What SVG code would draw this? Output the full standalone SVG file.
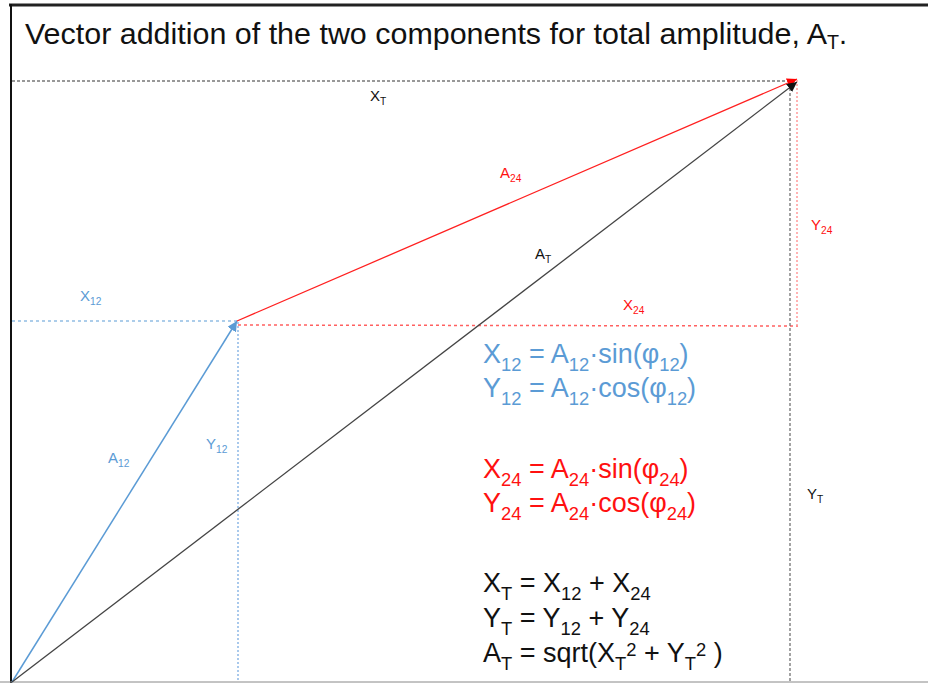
<svg xmlns="http://www.w3.org/2000/svg" width="928" height="683" viewBox="0 0 928 683">
<defs>
<style>
text{font-family:"Liberation Sans","Open Sans",sans-serif}
.title{font-size:29px;fill:#111}
.lbl{font-size:15px}
.eq{font-size:27px}
.blue{fill:#5B9BD5}
.red{fill:#FF1010}
.blk{fill:#111}
.sub{font-size:0.68em}
</style>
<marker id="ahBlue" markerUnits="userSpaceOnUse" markerWidth="12" markerHeight="12" refX="10" refY="5" orient="auto"><path d="M0,0 L10,5 L0,10 z" fill="#5B9BD5"/></marker>
<marker id="ahRed" markerUnits="userSpaceOnUse" markerWidth="12" markerHeight="12" refX="10" refY="5" orient="auto"><path d="M0,0 L10,5 L0,10 z" fill="#FF0000"/></marker>
<marker id="ahBlk" markerUnits="userSpaceOnUse" markerWidth="12" markerHeight="12" refX="10" refY="5" orient="auto"><path d="M0,0 L10,5 L0,10 z" fill="#111"/></marker>
</defs>
<rect width="928" height="683" fill="#fff"/>
<g id="frame">
<line x1="9" y1="5" x2="928" y2="5" stroke="#222" stroke-width="3"/>
<line x1="11" y1="4" x2="11" y2="683" stroke="#111" stroke-width="2"/>
<line x1="0" y1="682" x2="928" y2="682" stroke="#888" stroke-width="1"/>
</g>
<g id="title">
<text class="title" x="25" y="44"><tspan textLength="802" lengthAdjust="spacingAndGlyphs">Vector addition of the two components for total amplitude, A</tspan><tspan class="sub" dy="5">T</tspan><tspan dy="-5">.</tspan></text>
</g>
<g id="connectors" fill="none">
<line x1="12" y1="81" x2="797" y2="81" stroke="#777" stroke-width="1.5" stroke-dasharray="3,2"/>
<line x1="12" y1="321" x2="237" y2="321" stroke="#5B9BD5" stroke-width="1.2" stroke-dasharray="3,3"/>
<line x1="238" y1="322" x2="238" y2="682" stroke="#8DB8E6" stroke-width="1.5" stroke-dasharray="2,2"/>
<line x1="238" y1="325" x2="798" y2="326" stroke="#FF6060" stroke-width="1.5" stroke-dasharray="3,3"/>
<line x1="797" y1="80" x2="797" y2="327" stroke="#FF9A9A" stroke-width="1.5" stroke-dasharray="2,2"/>
<line x1="790" y1="88" x2="790" y2="682" stroke="#666" stroke-width="1.2" stroke-dasharray="3,2"/>
<line x1="12" y1="682" x2="237" y2="321" stroke="#5B9BD5" stroke-width="1.5" marker-end="url(#ahBlue)"/>
<line x1="237" y1="321" x2="797" y2="79" stroke="#FF2020" stroke-width="1.3" marker-end="url(#ahRed)"/>
<line x1="12" y1="682" x2="797" y2="82" stroke="#444" stroke-width="1.3" marker-end="url(#ahBlk)"/>
</g>
<g id="labels">
<text class="lbl blk" x="370" y="101">X<tspan class="sub" dy="4">T</tspan></text>
<text class="lbl red" x="500" y="178">A<tspan class="sub" dy="4">24</tspan></text>
<text class="lbl red" x="811" y="230">Y<tspan class="sub" dy="4">24</tspan></text>
<text class="lbl blk" x="535" y="259">A<tspan class="sub" dy="4">T</tspan></text>
<text class="lbl blue" x="80" y="301">X<tspan class="sub" dy="4">12</tspan></text>
<text class="lbl red" x="623" y="310">X<tspan class="sub" dy="4">24</tspan></text>
<text class="lbl blue" x="108" y="463">A<tspan class="sub" dy="4">12</tspan></text>
<text class="lbl blue" x="206" y="449">Y<tspan class="sub" dy="4">12</tspan></text>
<text class="lbl blk" x="807" y="499">Y<tspan class="sub" dy="4">T</tspan></text>
</g>
<g id="equations">
<text class="eq blue" x="483" y="363">X<tspan class="sub" dy="8">12</tspan><tspan dy="-8"> = A</tspan><tspan class="sub" dy="8">12</tspan><tspan dy="-8">·sin(φ</tspan><tspan class="sub" dy="8">12</tspan><tspan dy="-8">)</tspan></text>
<text class="eq blue" x="483" y="397">Y<tspan class="sub" dy="8">12</tspan><tspan dy="-8"> = A</tspan><tspan class="sub" dy="8">12</tspan><tspan dy="-8">·cos(φ</tspan><tspan class="sub" dy="8">12</tspan><tspan dy="-8">)</tspan></text>
<text class="eq red" x="483" y="478">X<tspan class="sub" dy="8">24</tspan><tspan dy="-8"> = A</tspan><tspan class="sub" dy="8">24</tspan><tspan dy="-8">·sin(φ</tspan><tspan class="sub" dy="8">24</tspan><tspan dy="-8">)</tspan></text>
<text class="eq red" x="483" y="512">Y<tspan class="sub" dy="8">24</tspan><tspan dy="-8"> = A</tspan><tspan class="sub" dy="8">24</tspan><tspan dy="-8">·cos(φ</tspan><tspan class="sub" dy="8">24</tspan><tspan dy="-8">)</tspan></text>
<text class="eq blk" x="483" y="592">X<tspan class="sub" dy="8">T</tspan><tspan dy="-8"> = X</tspan><tspan class="sub" dy="8">12</tspan><tspan dy="-8"> + X</tspan><tspan class="sub" dy="8">24</tspan></text>
<text class="eq blk" x="483" y="627">Y<tspan class="sub" dy="8">T</tspan><tspan dy="-8"> = Y</tspan><tspan class="sub" dy="8">12</tspan><tspan dy="-8"> + Y</tspan><tspan class="sub" dy="8">24</tspan></text>
<text class="eq blk" x="483" y="662">A<tspan class="sub" dy="8">T</tspan><tspan dy="-8"> = sqrt(X</tspan><tspan class="sub" dy="8">T</tspan><tspan class="sub" dy="-14">2</tspan><tspan dy="6"> + Y</tspan><tspan class="sub" dy="8">T</tspan><tspan class="sub" dy="-14">2</tspan><tspan dy="6"> )</tspan></text>
</g>
</svg>
